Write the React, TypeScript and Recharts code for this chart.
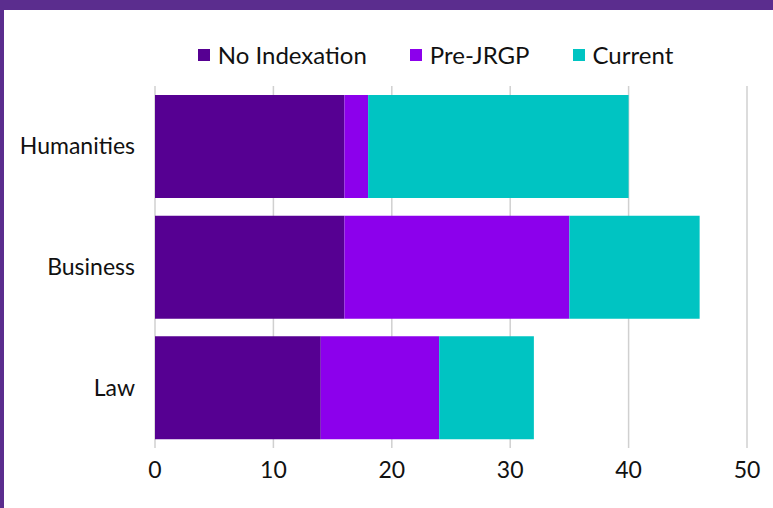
import { BarChart, Bar, XAxis, YAxis, CartesianGrid, Legend } from "recharts"

const categories = ["Humanities", "Business", "Law"]
const noIndexation = [16, 16, 14]
const preJrgp = [2, 19, 10]
const current = [22, 11, 8]
const xTicks = [0, 10, 20, 30, 40, 50]

const series = [
  { key: "noIndexation", name: "No Indexation", color: "#560092" },
  { key: "preJrgp", name: "Pre-JRGP", color: "#8c00ec" },
  { key: "current", name: "Current", color: "#00c4c2" },
]

const chartData = categories.map((category, i) => ({
  category,
  noIndexation: noIndexation[i],
  preJrgp: preJrgp[i],
  current: current[i],
}))

const font = "Lato, 'Noto Sans', sans-serif"

function LegendContent() {
  return (
    <div style={{ display: "flex", justifyContent: "center", gap: 43, paddingLeft: 94, fontFamily: font, fontSize: 24, color: "#111", lineHeight: "28px" }}>
      {series.map((s) => (
        <div key={s.key} style={{ display: "flex", alignItems: "center", gap: 8 }}>
          <span style={{ width: 12, height: 12, background: s.color, display: "inline-block" }} />
          <span>{s.name}</span>
        </div>
      ))}
    </div>
  )
}

export default function App() {
  return (
    <div style={{ position: "fixed", left: 0, top: 0, width: 773, height: 508, background: "#5b2d8e" }}>
      <div style={{ position: "absolute", left: 4, top: 10, width: 769, height: 498, background: "#fff" }}>
        <BarChart
          layout="vertical"
          width={769}
          height={498}
          data={chartData}
          margin={{ top: 48, right: 26, bottom: 30, left: 0 }}
          barCategoryGap={9}
        >
          <Legend
            verticalAlign="top"
            content={<LegendContent />}
            wrapperStyle={{ top: 31, left: 0, width: 769, position: "absolute" }}
          />
          <CartesianGrid horizontal={false} stroke="#d0d0d0" strokeWidth={1.5} />
          <XAxis
            type="number"
            domain={[0, 50]}
            ticks={xTicks}
            axisLine={false}
            tickLine={false}
            height={30}
            tick={{ fill: "#111", fontSize: 23, fontFamily: font }}
            tickMargin={8}
          />
          <YAxis
            type="category"
            dataKey="category"
            width={151}
            axisLine={false}
            tickLine={false}
            tick={{ fill: "#111", fontSize: 23, fontFamily: font }}
            tickMargin={14}
          />
          {series.map((s) => (
            <Bar key={s.key} dataKey={s.key} name={s.name} stackId="a" fill={s.color} isAnimationActive={false} />
          ))}
        </BarChart>
      </div>
    </div>
  )
}
